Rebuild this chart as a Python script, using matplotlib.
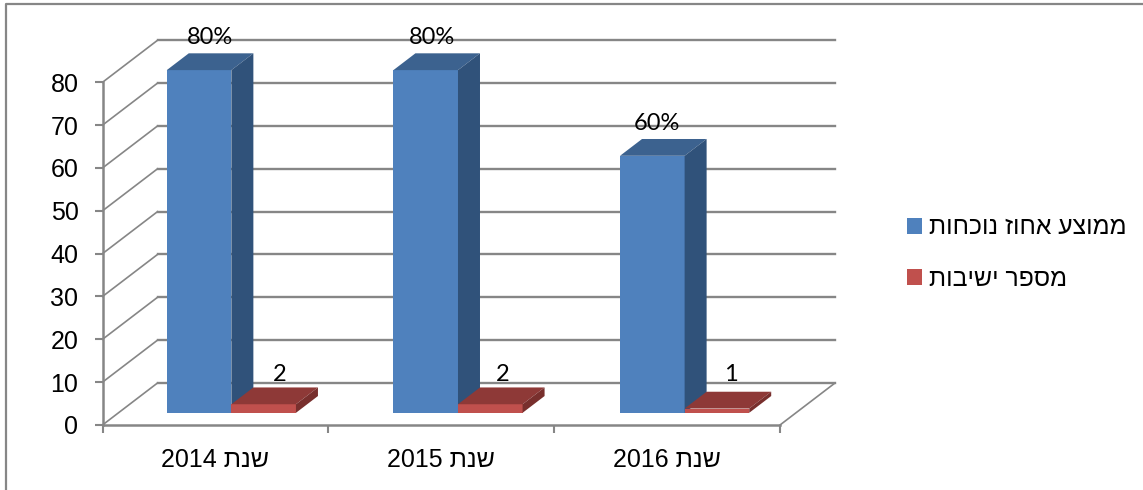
import matplotlib
matplotlib.use("Agg")
import matplotlib.pyplot as plt
from matplotlib.lines import Line2D
from matplotlib.patches import Patch, Polygon

# ---- data ----
categories = ["שנת 2014", "שנת 2015", "שנת 2016"]
attendance = [80, 80, 60]
meetings = [2, 2, 1]
attendance_labels = ["80%", "80%", "60%"]
meeting_labels = ["2", "2", "1"]
series_names = ["ממוצע אחוז נוכחות", "מספר ישיבות"]
y_ticks = [0, 10, 20, 30, 40, 50, 60, 70, 80]

# ---- style ----
W, H = 1143, 490
GREY = "#868686"
BLUE, BLUE_TOP, BLUE_SIDE = "#4F81BD", "#3C628F", "#30527A"
RED, RED_TOP, RED_SIDE = "#C0504D", "#8E3937", "#782F2D"
HEB = "Liberation Sans"
LBL = "Lato"
# hand placement of data labels, in pixels (x, y-up)
BLUE_NUDGE = [(0, 0), (-5, 0), (-6.5, 0)]
RED_NUDGE = [(1, 0), (-3, 0), (-1, 4)]


def visual(s):
    """matplotlib has no bidi: put logical Hebrew text in display order."""
    parts = s.split(" ")[::-1]
    return " ".join(p[::-1] if not p.isdigit() else p for p in parts)


fig = plt.figure(figsize=(W / 100, H / 100), dpi=100, facecolor="white")
L, R, B, T = 102.5, 780.0, 425.0, 82.3
ax = fig.add_axes([L / W, 1 - B / H, (R - L) / W, (B - T) / H])
ax.set_xlim(0, len(categories))
ax.set_ylim(0, max(y_ticks))
ax.patch.set_visible(False)

# oblique depth of the fake 3-D box, in data units
DX = 55.0 / ((R - L) / len(categories))
DY = 42.0 / ((B - T) / max(y_ticks))
GAP, BAR_W = 0.214, 0.286
D0, D1 = 0.29, 0.69
STEP = 1.0035

# walls and floor
for v in y_ticks:
    ax.plot([0, DX], [v, v + DY], color=GREY, lw=1.2, clip_on=False, zorder=1)
    ax.plot([DX, len(categories) + DX], [v + DY, v + DY], color=GREY, lw=1.7,
            clip_on=False, zorder=1)
ax.plot([len(categories), len(categories) + DX], [0, DY], color=GREY, lw=1.2,
        clip_on=False, zorder=1)


def bar3d(x0, val, front, top, side, z):
    dx0, dx1 = D0 * DX, D1 * DX
    dy0, dy1 = D0 * DY, D1 * DY
    ax.bar(x0 + dx0, val, BAR_W, bottom=dy0, align="edge", color=front,
           lw=0, clip_on=False, zorder=z)
    x_l, x_r = x0 + dx0, x0 + dx0 + BAR_W
    ax.add_patch(Polygon([(x_l, val + dy0), (x_r, val + dy0),
                          (x_r + dx1 - dx0, val + dy1), (x_l + dx1 - dx0, val + dy1)],
                         closed=True, fc=top, lw=0, clip_on=False, zorder=z))
    ax.add_patch(Polygon([(x_r, dy0), (x_r, val + dy0),
                          (x_r + dx1 - dx0, val + dy1), (x_r + dx1 - dx0, dy1)],
                         closed=True, fc=side, lw=0, clip_on=False, zorder=z))


for i in range(len(categories)):
    x_blue = i * STEP + GAP
    x_red = x_blue + BAR_W
    mid = D0 * DX + BAR_W / 2 + (D1 - D0) * DX / 2
    bar3d(x_blue, attendance[i], BLUE, BLUE_TOP, BLUE_SIDE, 3)
    bar3d(x_red, meetings[i], RED, RED_TOP, RED_SIDE, 4)
    ax.annotate(attendance_labels[i], (x_blue + mid, attendance[i] + D1 * DY + 1.2),
                xytext=(BLUE_NUDGE[i][0] * 0.72, BLUE_NUDGE[i][1] * 0.72),
                textcoords="offset points", ha="center", va="bottom", family=LBL,
                fontsize=17, color="black", zorder=6, annotation_clip=False)
    ax.annotate(meeting_labels[i], (x_red + mid + 0.018, meetings[i] + D1 * DY + 0.6),
                xytext=(RED_NUDGE[i][0] * 0.72, RED_NUDGE[i][1] * 0.72),
                textcoords="offset points", ha="center", va="bottom", family=LBL,
                fontsize=17, color="black", zorder=6, annotation_clip=False)

# axes
for s in ("top", "right"):
    ax.spines[s].set_visible(False)
for s in ("left", "bottom"):
    ax.spines[s].set_color(GREY)
    ax.spines[s].set_linewidth(1.8)
    ax.spines[s].set_zorder(2)
ax.set_yticks(y_ticks)
ax.set_xticks(range(len(categories) + 1))
ax.set_xticklabels([])
ax.set_xticks([i + 0.5 for i in range(len(categories))], minor=True)
ax.set_xticklabels([visual(c) for c in categories], minor=True, family=HEB,
                   fontsize=18)
ax.tick_params(axis="x", which="major", length=5.8, width=1.5, color=GREY)
ax.tick_params(axis="x", which="minor", length=0, pad=16.5)
ax.tick_params(axis="y", which="major", length=5.8, width=1.5, color=GREY,
               pad=11.5)
for t in ax.get_yticklabels():
    t.set_family(HEB)
    t.set_fontsize(18)
    t.set_verticalalignment("center_baseline")

# legend
handles = [Patch(fc=BLUE, lw=0), Patch(fc=RED, lw=0)]
fig.legend(handles, [visual(n) for n in series_names],
           loc="upper left", bbox_to_anchor=(900 / W, 1 - 208 / H),
           prop={"family": HEB, "size": 17.8}, frameon=False,
           handlelength=0.607, handleheight=0.607, handletextpad=0.26,
           labelspacing=1.1, borderpad=0.3, borderaxespad=0)

# chart-area border: only left and top fall inside the crop
fig.add_artist(Line2D([6 / W, 6 / W, 1], [0, 1 - 4.5 / H, 1 - 4.5 / H],
                      transform=fig.transFigure, color=GREY, lw=1.6))

fig.savefig("out.png", dpi=100, facecolor="white")
